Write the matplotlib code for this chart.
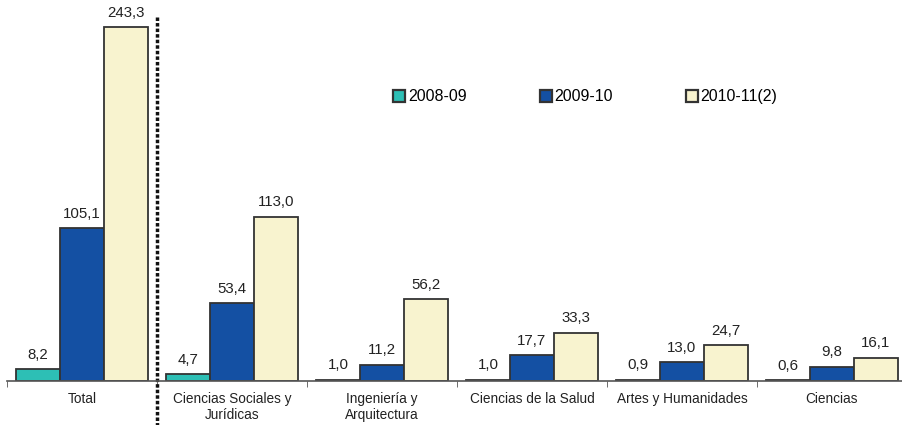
import matplotlib.pyplot as plt
import numpy as np

plt.rcParams['font.family'] = ['Liberation Sans', 'DejaVu Sans']

categories = ["Total", "Ciencias Sociales y\nJurídicas", "Ingeniería y\nArquitectura",
              "Ciencias de la Salud", "Artes y Humanidades", "Ciencias"]
series = ["2008-09", "2009-10", "2010-11(2)"]
v_2008 = [8.2, 4.7, 1.0, 1.0, 0.9, 0.6]
v_2009 = [105.1, 53.4, 11.2, 17.7, 13.0, 9.8]
v_2010 = [243.3, 113.0, 56.2, 33.3, 24.7, 16.1]
colors = ["#2dbfb5", "#1450a3", "#f8f3cf"]

fig = plt.figure(figsize=(9.02, 4.25), dpi=100)
ax = fig.add_axes([7 / 902, 1 - 381 / 425, 900 / 902, 381 / 425])

x = np.arange(len(categories))
w = 0.293
for i, (vals, name) in enumerate(zip([v_2008, v_2009, v_2010], series)):
    pos = x + (i - 1) * w
    ax.bar(pos, vals, width=w, color=colors[i], edgecolor="#333333",
           linewidth=1.3, label=name)
    for p, v in zip(pos, vals):
        ax.text(p, v + 5, f"{v:.1f}".replace(".", ","), ha="center",
                va="bottom", fontsize=10.8, color="#222222")

ax.set_xlim(-0.5, len(categories) - 0.5)
ax.set_ylim(0, 381 / 1.455)

ax.set_xticks(x)
ax.set_xticklabels(categories, fontsize=9.8, color="#222222")
ax.tick_params(axis="x", length=0, pad=8)
ax.set_xticks(np.arange(len(categories) + 1) - 0.5, minor=True)
ax.tick_params(axis="x", which="minor", length=4, color="#555555", direction="out")
ax.set_yticks([])
for s in ["top", "right", "left"]:
    ax.spines[s].set_visible(False)
ax.spines["bottom"].set_color("#555555")
ax.spines["bottom"].set_linewidth(1.2)

# dotted separator after Total
ax.plot([0.5, 0.5], [250, -31], color="#111111", linestyle=(0, (1, 0.6)),
        linewidth=2.5, clip_on=False)

leg = ax.legend(loc="upper left", bbox_to_anchor=(380 / 900, 1 - 83 / 381), ncol=3,
                frameon=False, fontsize=11.5, handlelength=0.75, handleheight=0.75,
                handletextpad=0.15, columnspacing=4.6, borderaxespad=0)
for h in leg.legend_handles:
    h.set_edgecolor("#333333")
    h.set_linewidth(1.6)

fig.savefig("out.png", dpi=100)
